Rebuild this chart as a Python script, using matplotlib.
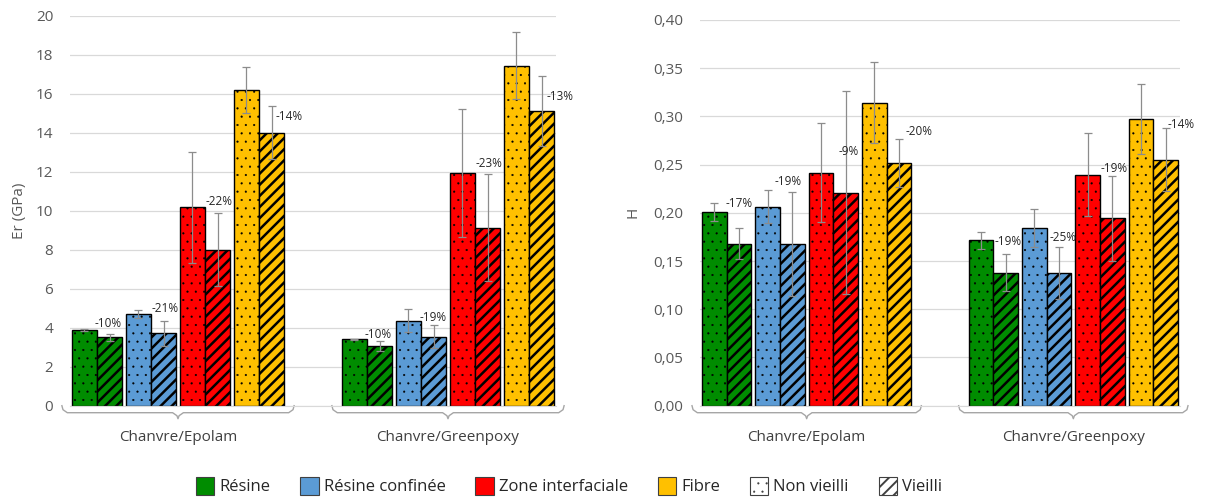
import numpy as np
import matplotlib
matplotlib.use("Agg")
import matplotlib.pyplot as plt
from matplotlib.patches import Patch
from matplotlib.transforms import blended_transform_factory
from matplotlib.ticker import FuncFormatter

plt.rcParams['font.family'] = ['Open Sans', 'DejaVu Sans']
plt.rcParams['hatch.linewidth'] = 1.8

# ---- data ----
groups = ['Chanvre/Epolam', 'Chanvre/Greenpoxy']
phases = ['Résine', 'Résine confinée', 'Zone interfaciale', 'Fibre']
phase_colors = ['#008c00', '#5b9bd5', '#ff0000', '#ffc000']

# Er (GPa): [group][phase]
er_new = [[3.88, 4.70, 10.17, 16.19],
          [3.40, 4.36, 11.92, 17.44]]
er_new_err = [[0.07, 0.20, 2.83, 1.19],
              [0.04, 0.58, 3.28, 1.71]]
er_aged = [[3.50, 3.71, 8.00, 14.00],
           [3.06, 3.54, 9.13, 15.11]]
er_aged_err = [[0.16, 0.65, 1.87, 1.35],
               [0.25, 0.60, 2.75, 1.79]]
er_drop = [['-10%', '-21%', '-22%', '-14%'],
           ['-10%', '-19%', '-23%', '-13%']]

# H: [group][phase]
h_new = [[0.201, 0.2065, 0.2417, 0.3143],
         [0.1716, 0.1843, 0.2396, 0.2974]]
h_new_err = [[0.009, 0.017, 0.051, 0.042],
             [0.0086, 0.0194, 0.043, 0.036]]
h_aged = [[0.168, 0.1674, 0.221, 0.2518],
          [0.138, 0.138, 0.1944, 0.2552]]
h_aged_err = [[0.016, 0.054, 0.105, 0.025],
              [0.019, 0.027, 0.044, 0.0325]]
h_drop = [['-17%', '-19%', '-9%', '-20%'],
          ['-19%', '-25%', '-19%', '-14%']]

# label offsets (pixels) from top of aged error bar -- layout only
er_lbl_off = [[(-1, 11), (2, 12), (1, 12), (18, -10)],
              [(-1, 7), (0, 7), (1, 11), (18, -20)]]
h_lbl_off = [[(0, 25), (-4, 11), (3, -60), (20, 7)],
             [(2, 13), (4, 9), (2, 7), (15, 4)]]

DOT_LW = 0.3

fig = plt.figure(figsize=(12.08, 5.01), dpi=100)
ax1 = fig.add_axes([70 / 1208, 95.3 / 501, 486 / 1208, 390 / 501])
ax2 = fig.add_axes([700 / 1208, 95.3 / 501, 480 / 1208, 385.7 / 501])

bw = 0.093
pair_off = [-0.3, -0.1, 0.1, 0.3]
gray_txt = '#595959'
err_col = '#8c8c8c'


def draw_panel(ax, new, new_err, aged, aged_err, drops, offs, ymax, ystep, fmt, ylabel, lab_x):
    for g in range(len(groups)):
        for p in range(len(phases)):
            xn = g + pair_off[p] - bw / 2
            xa = g + pair_off[p] + bw / 2
            with plt.rc_context({'hatch.linewidth': DOT_LW}):
                ax.bar(xn, new[g][p], bw, color=phase_colors[p], edgecolor='black',
                       linewidth=1.0, hatch='..', zorder=2)
            ax.bar(xa, aged[g][p], bw, color=phase_colors[p], edgecolor='black',
                   linewidth=1.0, hatch='///', zorder=2)
            ax.errorbar([xn, xa], [new[g][p], aged[g][p]], yerr=[new_err[g][p], aged_err[g][p]],
                        fmt='none', ecolor=err_col, elinewidth=0.9, capsize=3, capthick=0.9, zorder=3)
            ax.annotate(drops[g][p], (xa, aged[g][p] + aged_err[g][p]),
                        xytext=offs[g][p], textcoords='offset pixels',
                        ha='center', va='center', fontsize=8.5, color='#262626', zorder=4)

    ax.set_xlim(-0.4, 1.4)
    ax.set_ylim(0, ymax)
    ax.set_yticks(np.arange(0, ymax + ystep / 2, ystep))
    ax.yaxis.set_major_formatter(FuncFormatter(fmt))
    ax.set_xticks([])
    ax.tick_params(axis='y', length=0, pad=12, labelsize=11, labelcolor=gray_txt)
    ax.grid(axis='y', color='#d9d9d9', linewidth=0.9, zorder=0)
    ax.set_axisbelow(True)
    for s in ['top', 'right', 'left']:
        ax.spines[s].set_visible(False)
    ax.spines['bottom'].set_color('#d9d9d9')
    ax.set_ylabel(ylabel, fontsize=11, color=gray_txt)
    ax.yaxis.set_label_coords(lab_x, 0.5)

    # category braces and labels
    tr = blended_transform_factory(ax.transData, ax.transAxes)
    h = ax.bbox.height
    for g, name in enumerate(groups):
        x0, x1 = g - 0.43, g + 0.43
        xs = [x0, x0 + 0.004, x0 + 0.02, g - 0.02, g - 0.004, g,
              g + 0.004, g + 0.02, x1 - 0.02, x1 - 0.004, x1]
        ys = [0, -4, -7, -7, -10, -13, -10, -7, -7, -4, 0]
        ax.plot(xs, [y / h for y in ys], transform=tr, color='#a6a6a6',
                linewidth=1.0, clip_on=False)
        ax.text(g, -32 / h, name, transform=tr, ha='center', va='center',
                fontsize=11, color='#404040')


draw_panel(ax1, er_new, er_new_err, er_aged, er_aged_err, er_drop, er_lbl_off,
           20, 2, lambda v, _: f'{v:.0f}', 'Er (GPa)', -0.088)
draw_panel(ax2, h_new, h_new_err, h_aged, h_aged_err, h_drop, h_lbl_off,
           0.40, 0.05, lambda v, _: f'{v:.2f}'.replace('.', ','), 'H', -0.123)

handles = [Patch(facecolor=c, edgecolor='#404040', linewidth=0.8) for c in phase_colors]
with plt.rc_context({'hatch.linewidth': DOT_LW}):
    handles.append(Patch(facecolor='white', edgecolor='#404040', linewidth=0.8, hatch='..'))
handles.append(Patch(facecolor='white', edgecolor='#404040', linewidth=0.8, hatch='///'))
labels = phases + ['Non vieilli', 'Vieilli']
with plt.rc_context({'hatch.linewidth': DOT_LW}):
    leg = fig.legend(handles, labels, loc='center', bbox_to_anchor=(0.471, 0.03), ncol=6,
                     frameon=False, fontsize=12, handlelength=1.1, handleheight=1.3,
                     handletextpad=0.3, columnspacing=1.8, labelcolor='#262626')
stripe_handle = leg.legend_handles[5]
if hasattr(stripe_handle, 'set_hatch_linewidth'):
    stripe_handle.set_hatch_linewidth(1.4)

fig.savefig('out.png', dpi=100)
